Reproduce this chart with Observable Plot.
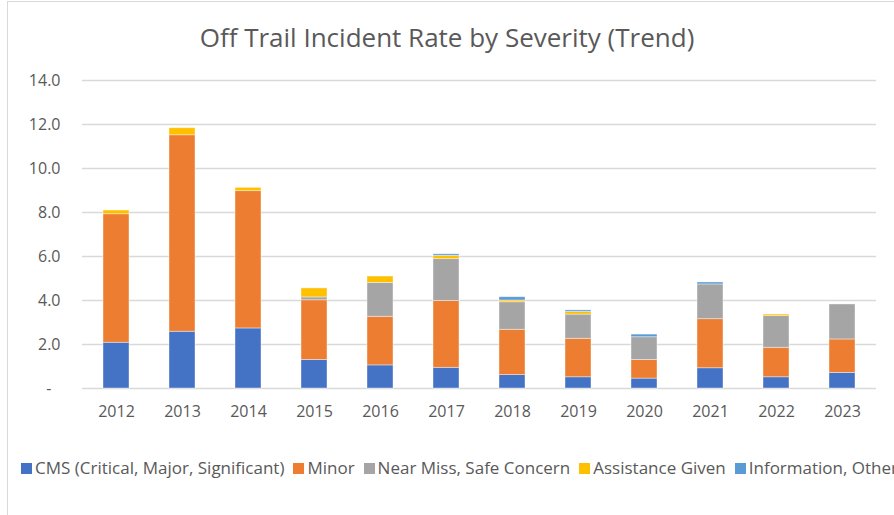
<!DOCTYPE html>
<html><head><meta charset="utf-8">
<script src="https://cdn.jsdelivr.net/npm/d3@7"></script>
<script src="https://cdn.jsdelivr.net/npm/@observablehq/plot@0.6"></script>
<style>
html,body{margin:0;padding:0;background:#fff;overflow:hidden}
#wrap{position:relative;width:894px;height:515px;overflow:hidden;font-family:"Open Sans",sans-serif;color:#595959;background:#fff}
#frame{position:absolute;left:7px;top:1px;width:1000px;height:1000px;border-left:1px solid #d9d9d9;border-top:1px solid #d9d9d9;box-sizing:border-box;pointer-events:none;z-index:5}
#title{position:absolute;left:0;top:20px;width:894px;height:34px;line-height:34px;text-align:center;font-size:26px;white-space:nowrap}
#chart{position:absolute;left:0;top:62px}
#legend{position:absolute;left:21px;top:456px;height:24px;line-height:24px;white-space:nowrap;font-size:17px;display:flex;align-items:center}
.item{display:inline-flex;align-items:center;margin-right:9px}
.sw{width:11px;height:11px;margin-right:3px;display:inline-block}
</style>
</head><body>
<div id="wrap">
  <div id="title">Off Trail Incident Rate by Severity (Trend)</div>
  <div id="chart"></div>
  <div id="legend"></div>
  <div id="frame"></div>
</div>
<script>
const years = ["2012","2013","2014","2015","2016","2017","2018","2019","2020","2021","2022","2023"];
const seriesNames = ["CMS (Critical, Major, Significant)","Minor","Near Miss, Safe Concern","Assistance Given","Information, Other"];
const seriesColors = ["#4472C4","#ED7D31","#A5A5A5","#FFC000","#5B9BD5"];
const cms      = [2.08, 2.58, 2.73, 1.30, 1.05, 0.94, 0.61, 0.51, 0.45, 0.92, 0.51, 0.71];
const minor    = [5.84, 8.93, 6.24, 2.71, 2.21, 3.04, 2.06, 1.75, 0.85, 2.23, 1.34, 1.52];
const nearMiss = [0.00, 0.00, 0.00, 0.13, 1.54, 1.90, 1.25, 1.10, 1.03, 1.58, 1.44, 1.59];
const assist   = [0.17, 0.32, 0.15, 0.41, 0.29, 0.15, 0.08, 0.12, 0.00, 0.00, 0.07, 0.00];
const info     = [0.00, 0.00, 0.00, 0.00, 0.00, 0.07, 0.15, 0.07, 0.12, 0.09, 0.00, 0.00];
const yTicks = [0, 2, 4, 6, 8, 10, 12, 14];

const seriesValues = [cms, minor, nearMiss, assist, info];
const data = [];
years.forEach((yr, i) => {
  seriesNames.forEach((s, j) => {
    data.push({year: yr, series: s, value: seriesValues[j][i]});
  });
});

const chart = Plot.plot({
  width: 894,
  height: 370,
  marginTop: 18,
  marginBottom: 44,
  marginLeft: 82,
  marginRight: 18,
  style: {fontFamily: "'Open Sans', sans-serif", color: "#595959", background: "transparent", overflow: "visible"},
  x: {domain: years, paddingInner: 0.6, paddingOuter: 0.3, label: null},
  y: {domain: [0, 14], label: null},
  color: {domain: seriesNames, range: seriesColors},
  marks: [
    Plot.ruleY(yTicks, {stroke: "#d9d9d9", strokeWidth: 1.3}),
    Plot.barY(data, {x: "year", y: "value", fill: "series", order: seriesNames, stroke: "white", strokeOpacity: 0.5, strokeWidth: 0.8}),
    Plot.axisY({ticks: yTicks, tickSize: 0, tickPadding: 22, fontSize: 16, fill: "#595959",
      tickFormat: d => d === 0 ? "-\u2007" : d.toFixed(1)}),
    Plot.axisX({tickSize: 0, tickPadding: 17, fontSize: 16, fill: "#595959"})
  ]
});
document.getElementById("chart").appendChild(chart);

const legend = document.getElementById("legend");
seriesNames.forEach((s, j) => {
  const it = document.createElement("span");
  it.className = "item";
  const sw = document.createElement("span");
  sw.className = "sw";
  sw.style.background = seriesColors[j];
  it.appendChild(sw);
  it.appendChild(document.createTextNode(s));
  legend.appendChild(it);
});
</script>
</body></html>
